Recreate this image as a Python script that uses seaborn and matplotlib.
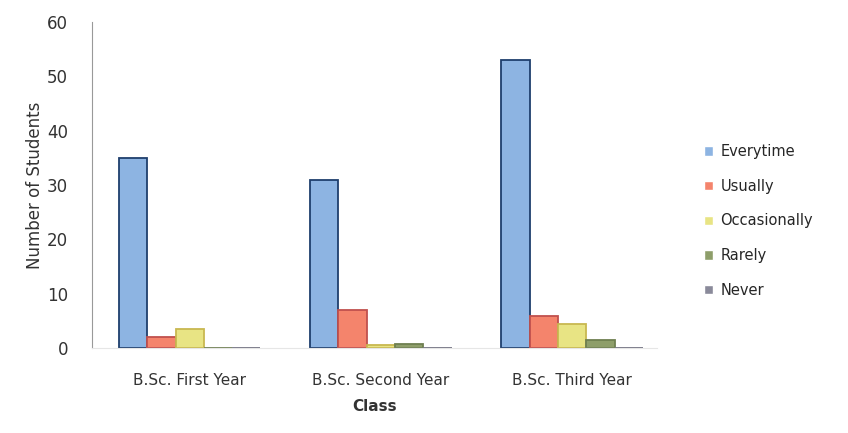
import matplotlib
matplotlib.use("Agg")
import matplotlib.pyplot as plt
import seaborn as sns
import pandas as pd

classes = ["B.Sc. First Year", "B.Sc. Second Year", "B.Sc. Third Year"]
responses = ["Everytime", "Usually", "Occasionally", "Rarely", "Never"]
everytime = [35, 31, 53]
usually = [2, 7, 6]
occasionally = [3.5, 0.5, 4.5]
rarely = [0, 0.7, 1.5]
never = [0, 0, 0]
colors = ["#8DB4E2", "#F4846C", "#E8E484", "#8E9E6A", "#8A8A9A"]
edges = ["#1F3F6D", "#C0504D", "#C8B850", "#6E7F50", "#707080"]

rows = []
for vals, resp in zip([everytime, usually, occasionally, rarely, never], responses):
    for c, v in zip(classes, vals):
        rows.append({"Class": c, "Response": resp, "Students": v})
df = pd.DataFrame(rows)

sns.set_style("white")
plt.rcParams["font.family"] = ["DejaVu Sans"]
fig, ax = plt.subplots(figsize=(8.48, 4.33), dpi=100)
sns.barplot(data=df, x="Class", y="Students", hue="Response", order=classes,
            hue_order=responses, palette=colors, saturation=1, width=0.74,
            ax=ax, legend=True)

for bars, ec in zip(ax.containers, edges):
    for b in bars:
        b.set_edgecolor(ec); b.set_linewidth(1.3)

ax.set_ylim(0, 60)
ax.set_yticks(range(0, 61, 10))
ax.set_xlim(-0.513, 2.445)
ax.tick_params(axis="y", labelsize=12, colors="#333333", length=0, pad=17)
ax.tick_params(axis="x", labelsize=11, colors="#333333", length=0, pad=18)
ax.set_xlabel("Class", fontsize=11, fontweight="bold", color="#333333", labelpad=8)
ax.set_ylabel("Number of Students", fontsize=12, color="#333333", labelpad=2)
sns.despine(ax=ax)
ax.spines["left"].set_color("#999999")
ax.spines["bottom"].set_color("#e6e6e6")

ax.legend(loc="center left", bbox_to_anchor=(1.06, 0.39), frameon=False,
          fontsize=10.5, labelspacing=1.35, handlelength=0.6, handleheight=0.6,
          handletextpad=0.5)

plt.subplots_adjust(left=0.108, right=0.775, top=0.949, bottom=0.196)
fig.savefig("out.png", dpi=100)
plt.close(fig)
